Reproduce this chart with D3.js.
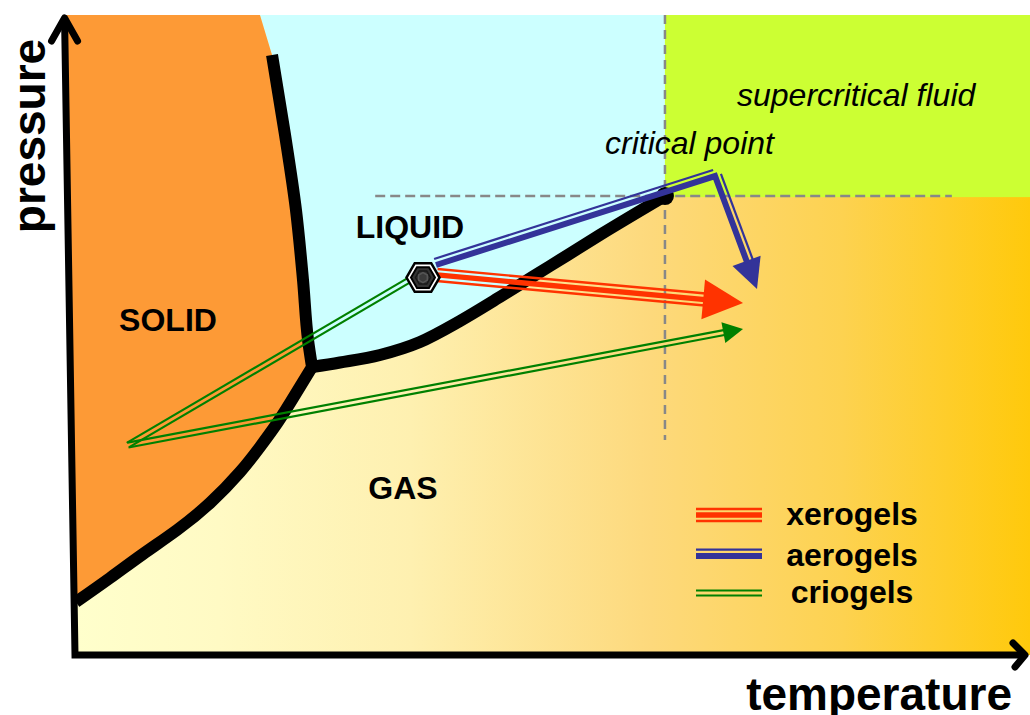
<!DOCTYPE html>
<html><head><meta charset="utf-8">
<script src="https://cdn.jsdelivr.net/npm/d3@7"></script>
<style>
html,body{margin:0;padding:0;background:#fff;}
svg{display:block;}
text{font-family:"Liberation Sans",Arial,Helvetica,sans-serif;}
</style>
</head><body>
<svg id="c" width="1030" height="715"></svg>
<script>
// ---- data (arbitrary temperature / pressure units, 0..100) ----
const phaseLabels = ["SOLID", "LIQUID", "GAS"];
const regionNotes = ["supercritical fluid", "critical point"];
const gelTypes = ["xerogels", "aerogels", "criogels"];
const axisTitles = ["temperature", "pressure"];
const triplePoint = [24.95, 45.0];
const criticalPoint = [62.1, 71.7];
const meltingCurve = [[20.74, 93.75], [22.11, 81.25], [23.26, 69.53], [24.0, 58.59], [24.53, 49.22], [24.95, 45.0]];
const vaporCurve = [[24.95, 45.0], [27.89, 45.7], [32.11, 46.88], [36.32, 48.91], [40.53, 52.19], [44.74, 55.94], [50.0, 60.78], [55.26, 65.63], [62.1, 71.7]];
const sublimationCurve = [[24.95, 45.0], [23.16, 40.63], [21.37, 36.41], [19.47, 32.5], [17.37, 28.59], [14.21, 23.75], [10.74, 19.53], [7.16, 15.78], [3.68, 12.03], [0.1, 8.28]];
const solidTopEdge = [19.47, 100];
const gelPoint = [36.63, 58.98];
const xerogelPath = [[38.11, 59.38], [70.32, 55.0]];
const aerogelPath = [[38.0, 60.94], [67.37, 74.84], [71.79, 57.19]];
const criogelPath = [[35.37, 58.75], [5.58, 32.81], [70.32, 50.94]];

// ---- scales ----
const svg = d3.select("#c");
const x = d3.scaleLinear().domain([0, 100]).range([75, 1025]);
const y = d3.scaleLinear().domain([0, 100]).range([655, 15]);
const P = d => [x(d[0]), y(d[1])];
const lineV = d3.line().x(d => x(d[0])).y(d => y(d[1])).curve(d3.curveMonotoneX);
const lineS = d3.line().x(d => x(d[0])).y(d => y(d[1])).curve(d3.curveNatural);
const lineM = d3.line().x(d => x(d[0])).y(d => y(d[1])).curve(d3.curveMonotoneY);
const cont = s => s.replace(/^M/, "L");

// gradient
const defs = svg.append("defs");
const grad = defs.append("linearGradient").attr("id", "gasGrad")
  .attr("gradientUnits", "userSpaceOnUse")
  .attr("x1", x(0)).attr("x2", x(101)).attr("y1", 0).attr("y2", 0);
[[0, "#ffffcc"], [0.15, "#fffac4"], [0.35, "#fef0b0"], [0.6, "#fdd97c"], [0.8, "#fdd250"], [1, "#ffc90a"]]
  .forEach(s => grad.append("stop").attr("offset", s[0]).attr("stop-color", s[1]));

// ---- regions ----
svg.append("path").attr("fill", "url(#gasGrad)")
  .attr("d", `M${x(-1.3)},${y(100)}L${x(101)},${y(100)}L${x(101)},${y(0)}L${x(0)},${y(0)}Z`);

svg.append("path").attr("fill", "#ccffff")
  .attr("d", `M${x(solidTopEdge[0])},${y(100)}L${x(criticalPoint[0])},${y(100)}L${x(criticalPoint[0])},${y(criticalPoint[1])}`
    + cont(lineV(vaporCurve.slice().reverse())) + cont(lineM(meltingCurve.slice().reverse())) + "Z");

svg.append("path").attr("fill", "#fd9a36")
  .attr("d", `M${x(-1.3)},${y(100)}L${x(solidTopEdge[0])},${y(100)}` + cont(lineM(meltingCurve)) + cont(lineS(sublimationCurve))
    + `L${x(-0.2)},${y(8.28)}Z`);

svg.append("rect").attr("fill", "#ccff33")
  .attr("x", x(criticalPoint[0])).attr("y", y(100))
  .attr("width", x(101) - x(criticalPoint[0])).attr("height", y(criticalPoint[1]) - y(100) + 1);

// dashed guide lines
svg.append("line").attr("x1", x(31.6)).attr("x2", x(92.3)).attr("y1", y(criticalPoint[1])).attr("y2", y(criticalPoint[1]))
  .attr("stroke", "#888").attr("stroke-width", 2.5).attr("stroke-dasharray", "10,5");
svg.append("line").attr("x1", x(criticalPoint[0])).attr("x2", x(criticalPoint[0])).attr("y1", y(100)).attr("y2", y(33.6))
  .attr("stroke", "#888").attr("stroke-width", 2.5).attr("stroke-dasharray", "9,6");

// phase boundaries
svg.append("path").attr("fill", "none").attr("stroke", "#000").attr("stroke-width", 12)
  .attr("stroke-linejoin", "miter").attr("stroke-miterlimit", 10)
  .attr("d", lineM(meltingCurve) + cont(lineS(sublimationCurve)));
svg.append("path").attr("fill", "none").attr("stroke", "#000").attr("stroke-width", 12)
  .attr("d", lineV(vaporCurve));
svg.append("circle").attr("cx", x(criticalPoint[0])).attr("cy", y(criticalPoint[1])).attr("r", 9).attr("fill", "#000");

// ---- multi-line arrows ----
function unit(a, b) { const dx = b[0] - a[0], dy = b[1] - a[1], l = Math.hypot(dx, dy); return [dx / l, dy / l]; }
function drawGel(data, color, lines, head) {
  const g = svg.append("g");
  let pts = data.map(P);
  const n = pts.length;
  if (head) {
    const tip = pts[n - 1];
    const u = unit(pts[n - 2], tip);
    const base = [tip[0] - head.len * u[0], tip[1] - head.len * u[1]];
    const nn = [u[1], -u[0]];
    g.append("path").attr("fill", color).attr("d",
      `M${tip}L${base[0] + nn[0] * head.w / 2},${base[1] + nn[1] * head.w / 2}L${base[0] - nn[0] * head.w / 2},${base[1] - nn[1] * head.w / 2}Z`);
    pts = pts.slice(0, n - 1).concat([[base[0] + u[0] * 2, base[1] + u[1] * 2]]);
  }
  lines.forEach(ln => {
    if (ln.d === 0) {
      g.append("path").attr("fill", "none").attr("stroke", color).attr("stroke-width", ln.w)
        .attr("stroke-linejoin", "miter").attr("d", d3.line()(pts));
    } else {
      for (let i = 0; i < pts.length - 1; i++) {
        const u = unit(pts[i], pts[i + 1]);
        const nn = [u[1] * ln.d, -u[0] * ln.d];
        g.append("line").attr("stroke", color).attr("stroke-width", ln.w)
          .attr("x1", pts[i][0] + nn[0]).attr("y1", pts[i][1] + nn[1])
          .attr("x2", pts[i + 1][0] + nn[0]).attr("y2", pts[i + 1][1] + nn[1]);
      }
    }
  });
}
const styles = {
  xerogels: { color: "#ff3300", lines: [{ d: 6, w: 2.4 }, { d: 0, w: 5.3 }, { d: -6, w: 2.4 }] },
  aerogels: { color: "#333399", lines: [{ d: 6.3, w: 2.2 }, { d: 0, w: 6 }] },
  criogels: { color: "#008000", lines: [{ d: 2.5, w: 2.2 }, { d: -2.5, w: 2.2 }] }
};
drawGel(criogelPath, styles.criogels.color, styles.criogels.lines, { len: 20, w: 21 });
drawGel(xerogelPath, styles.xerogels.color, styles.xerogels.lines, { len: 40, w: 40 });
drawGel(aerogelPath, styles.aerogels.color, styles.aerogels.lines, { len: 30, w: 30 });

// gel (hexagon) marker
function hex(cx, cy, r, rot) {
  return "M" + d3.range(6).map(k => {
    const a = (k * 60 + rot) * Math.PI / 180;
    return [cx + r * Math.cos(a), cy + r * Math.sin(a)];
  }).join("L") + "Z";
}
const [hx, hy] = P(gelPoint);
svg.append("path").attr("d", hex(hx, hy, 16.5, 0)).attr("fill", "#fff").attr("stroke", "#000").attr("stroke-width", 2.5);
svg.append("path").attr("d", hex(hx, hy, 12, 0)).attr("fill", "#333").attr("stroke", "#000").attr("stroke-width", 2);
svg.append("path").attr("d", hex(hx, hy, 7.5, 0)).attr("fill", "none").attr("stroke", "#1a1a1a").attr("stroke-width", 1.5);
svg.append("path").attr("d", hex(hx, hy, 5, 90)).attr("fill", "#3a3a3a").attr("stroke", "#555").attr("stroke-width", 1.5);

// ---- labels ----
const labelPos = [[168, 331], [410, 238], [403, 499]];
phaseLabels.forEach((t, i) => svg.append("text").text(t)
  .attr("x", labelPos[i][0]).attr("y", labelPos[i][1]).attr("text-anchor", "middle")
  .attr("font-weight", "bold").attr("font-size", 32).attr("fill", "#000"));
svg.append("text").text(regionNotes[0]).attr("x", 737).attr("y", 106)
  .attr("font-style", "italic").attr("font-size", 32).attr("fill", "#000");
svg.append("text").text(regionNotes[1]).attr("x", 605).attr("y", 154)
  .attr("font-style", "italic").attr("font-size", 32).attr("fill", "#000");

// legend
const legendY = [515, 556, 593];
gelTypes.forEach((t, i) => {
  const st = styles[t];
  const g = svg.append("g");
  st.lines.forEach(ln => g.append("line").attr("stroke", st.color).attr("stroke-width", ln.w)
    .attr("x1", 696).attr("x2", 762).attr("y1", legendY[i] - ln.d).attr("y2", legendY[i] - ln.d));
  svg.append("text").text(t).attr("x", 852).attr("y", legendY[i] + 10).attr("text-anchor", "middle")
    .attr("font-weight", "bold").attr("font-size", 32).attr("fill", "#000");
});

// ---- axes ----
const ax = svg.append("g").attr("fill", "none").attr("stroke", "#000");
ax.append("path").attr("stroke-width", 7).attr("stroke-linejoin", "miter")
  .attr("d", `M${x(-1.1)},${y(100) + 3}L${x(0)},${y(0)}L${x(100)},${y(0)}`);
ax.append("path").attr("stroke-width", 7).attr("stroke-linecap", "round").attr("stroke-linejoin", "round")
  .attr("d", `M${x(-1.1) - 13},${y(100) + 26}L${x(-1.1)},${y(100) + 3}L${x(-1.1) + 13},${y(100) + 26}`);
ax.append("path").attr("stroke-width", 7).attr("stroke-linecap", "round").attr("stroke-linejoin", "round")
  .attr("d", `M${x(100) - 12},${y(0) - 12}L${x(100)},${y(0)}L${x(100) - 10},${y(0) + 12}`);

svg.append("text").text(axisTitles[0]).attr("x", 1012).attr("y", 710).attr("text-anchor", "end")
  .attr("font-weight", "bold").attr("font-size", 46).attr("fill", "#000");
svg.append("text").text(axisTitles[1]).attr("transform", "translate(45,136) rotate(-90)").attr("text-anchor", "middle")
  .attr("font-weight", "bold").attr("font-size", 46).attr("fill", "#000");
</script>
</body></html>
